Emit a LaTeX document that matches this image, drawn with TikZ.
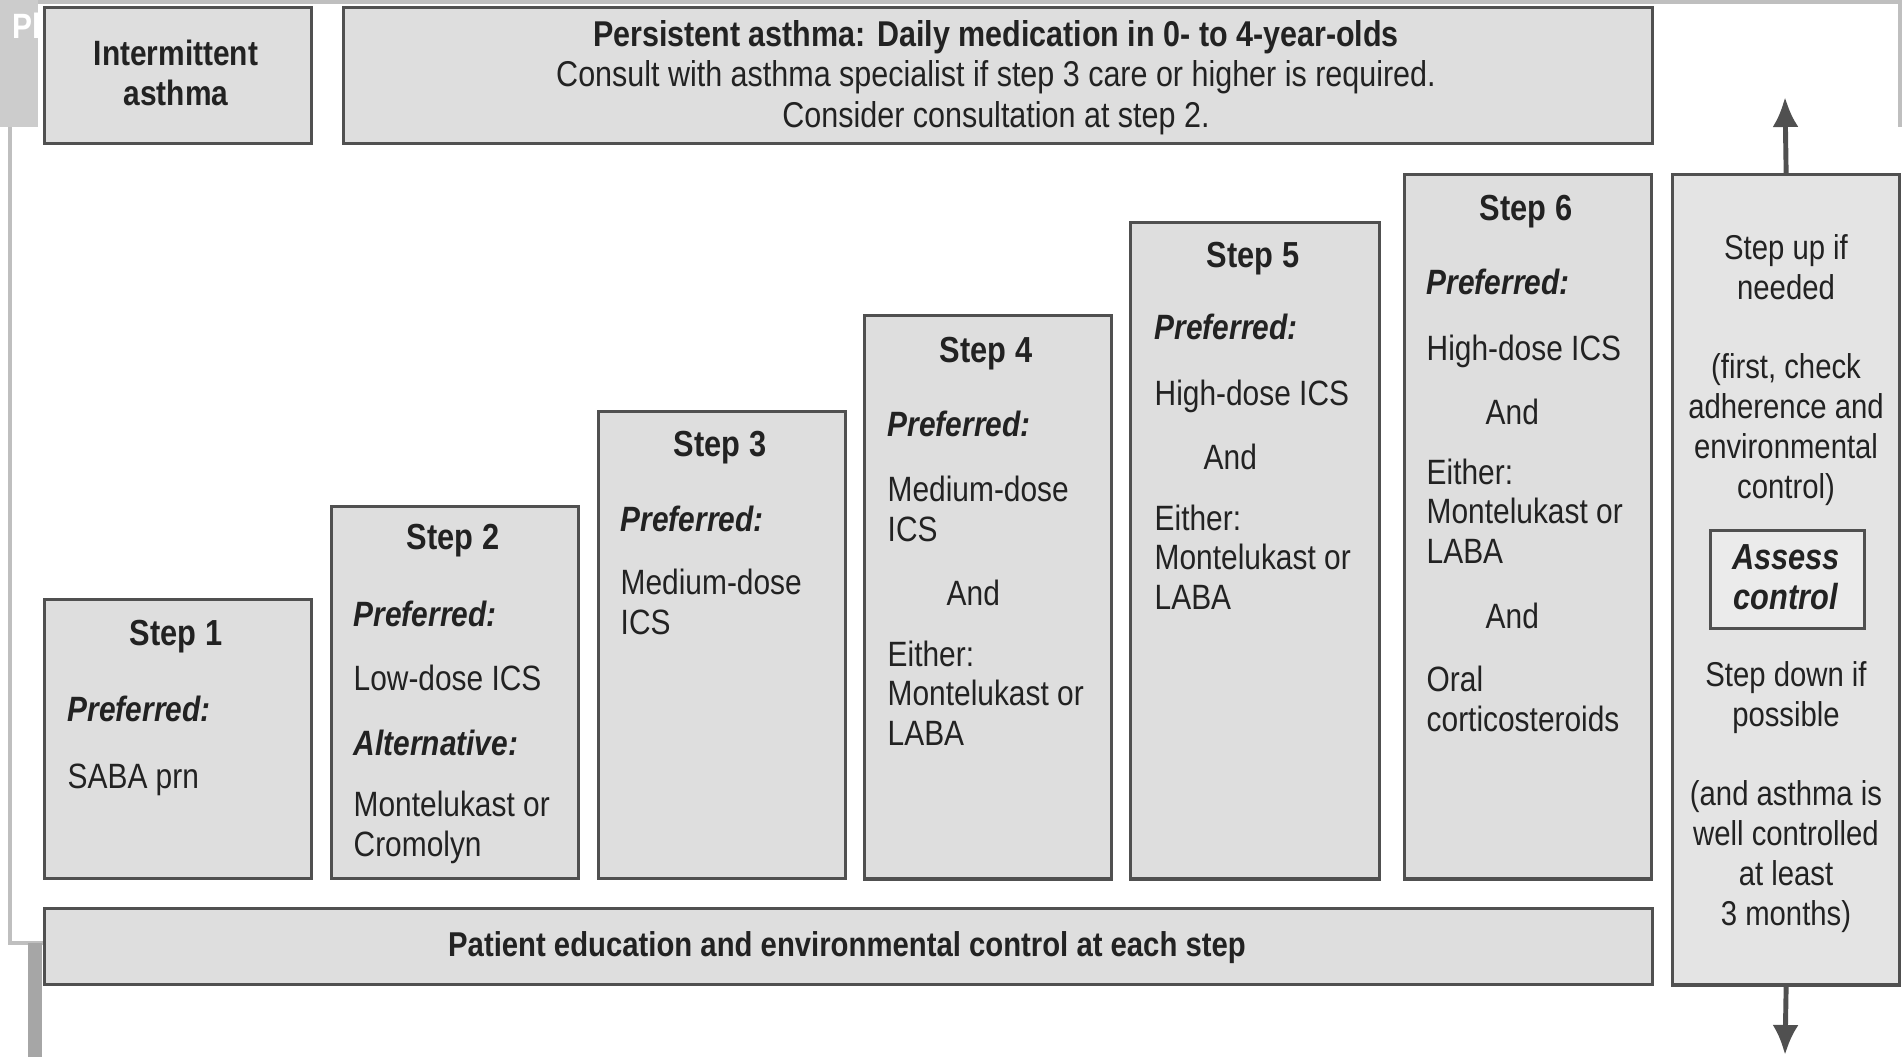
\documentclass[tikz,border=0pt]{standalone}
\usepackage{fontspec}
\setmainfont{Liberation Sans}[FakeStretch=0.85]
\usetikzlibrary{arrows.meta}

\definecolor{boxgray}{HTML}{DEDEDE}
\definecolor{colgray}{HTML}{E4E4E4}
\definecolor{assessgray}{HTML}{EBEBEB}
\definecolor{edgegray}{HTML}{505050}
\definecolor{inkgray}{HTML}{222222}

\begin{document}
\begin{tikzpicture}[x=0.01cm,y=-0.01cm,>={Latex[length=3mm,width=2.6mm]},
  font=\fontsize{10}{11.1}\selectfont,text=inkgray,
  box/.style={draw=edgegray,fill=boxgray,line width=0.9pt,inner sep=0pt,anchor=north west},
  steptitle/.style={font=\fontsize{10.3}{12}\selectfont\bfseries,anchor=base,inner sep=0pt},
  pref/.style={font=\fontsize{10}{11.1}\selectfont\bfseries\itshape,anchor=base west,inner sep=0pt},
  body/.style={align=left,anchor=base west,inner sep=0pt},
  centred/.style={align=center,anchor=base,inner sep=0pt}]
\useasboundingbox (0,0) rectangle (1902,1057);

\fill[black!20] (0,0) rectangle (38,127);
\begin{scope}
\clip (0,0) rectangle (38,127);
\node[white,font=\fontsize{10}{11}\selectfont\bfseries,anchor=base west,inner sep=0pt] (tab) at (12,38) {Ph};
\end{scope}
\draw[black!25,line width=1pt] (38,2) -- (1900,2) -- (1900,127);
\draw[black!25,line width=1pt] (10,127) -- (10,943) -- (43,943);
\fill[black!35] (28,943) rectangle (42,1057);

\node[box,minimum width=2.67cm,minimum height=1.36cm] (inter) at (43,6) {};
\node[centred,font=\fontsize{10}{11.1}\selectfont\bfseries] (intert) at (176,105) {Intermittent\\asthma};

\node[box,minimum width=13.08cm,minimum height=1.36cm] (pers) at (342,6) {};
\node[centred,font=\fontsize{10.2}{11.4}\selectfont] (perst) at (996,127)
  {{\bfseries Persistent asthma: Daily medication in 0- to 4-year-olds}\\
   Consult with asthma specialist if step 3 care or higher is required.\\
   Consider consultation at step 2.};

\node[box,minimum width=2.67cm,minimum height=2.79cm] (s1) at (43,598) {};
\node[steptitle] (s1t) at (176,645) {Step 1};
\node[pref] (s1p) at (67,721) {Preferred:};
\node[body] (s1a) at (67,788) {SABA prn};

\node[box,minimum width=2.47cm,minimum height=3.72cm] (s2) at (330,505) {};
\node[steptitle] (s2t) at (453,549) {Step 2};
\node[pref] (s2p) at (353,626) {Preferred:};
\node[body] (s2a) at (353,690) {Low-dose ICS};
\node[pref] (s2q) at (353,755) {Alternative:};
\node[body] (s2b) at (353,856) {Montelukast or\\Cromolyn};

\node[box,minimum width=2.47cm,minimum height=4.67cm] (s3) at (597,410) {};
\node[steptitle] (s3t) at (720,456) {Step 3};
\node[pref] (s3p) at (620,531) {Preferred:};
\node[body] (s3a) at (620,634) {Medium-dose\\ICS};

\node[box,minimum width=2.47cm,minimum height=5.63cm] (s4) at (863,314) {};
\node[steptitle] (s4t) at (986,362) {Step 4};
\node[pref] (s4p) at (887,436) {Preferred:};
\node[body] (s4a) at (887,541) {Medium-dose\\ICS};
\node[body] (s4and) at (946,605) {And};
\node[body] (s4b) at (887,745) {Either:\\Montelukast or\\LABA};

\node[box,minimum width=2.49cm,minimum height=6.56cm] (s5) at (1129,221) {};
\node[steptitle] (s5t) at (1253,267) {Step 5};
\node[pref] (s5p) at (1154,339) {Preferred:};
\node[body] (s5a) at (1154,405) {High-dose ICS};
\node[body] (s5and) at (1203,469) {And};
\node[body] (s5b) at (1154,609) {Either:\\Montelukast or\\LABA};

\node[box,minimum width=2.47cm,minimum height=7.04cm] (s6) at (1403,173) {};
\node[steptitle] (s6t) at (1526,220) {Step 6};
\node[pref] (s6p) at (1426,294) {Preferred:};
\node[body] (s6a) at (1426,360) {High-dose ICS};
\node[body] (s6and) at (1485,424) {And};
\node[body] (s6b) at (1426,563) {Either:\\Montelukast or\\LABA};
\node[body] (s6and2) at (1485,628) {And};
\node[body] (s6c) at (1426,731) {Oral\\corticosteroids};

\node[box,minimum width=16.07cm,minimum height=0.76cm] (band) at (43,907) {};
\node[centred,font=\fontsize{9.8}{11}\selectfont\bfseries] (bandt) at (847,956)
  {Patient education and environmental control at each step};

\node[box,fill=colgray,minimum width=2.27cm,minimum height=8.10cm] (ctrl) at (1671,173) {};
\node[centred,font=\fontsize{9.8}{11.3}\selectfont] (upt) at (1786,498)
  {Step up if\\needed\\[11.3pt](first, check\\adherence and\\environmental\\control)};
\node[box,fill=assessgray,minimum width=1.54cm,minimum height=0.98cm] (assess) at (1709,529) {};
\node[centred,font=\fontsize{10.3}{11.1}\selectfont\bfseries\itshape] (assesst) at (1786,609) {Assess\\control};
\node[centred,font=\fontsize{9.8}{11.3}\selectfont] (downt) at (1786,925)
  {Step down if\\possible\\[11.3pt](and asthma is\\well controlled\\at least\\3 months)};

\coordinate (up) at (1785,97);
\coordinate (down) at (1785,1055);
\draw[->,edgegray,line width=1.4pt] (ctrl.north) -- (up);
\draw[->,edgegray,line width=1.4pt] (ctrl.south) -- (down);
\end{tikzpicture}
\end{document}
